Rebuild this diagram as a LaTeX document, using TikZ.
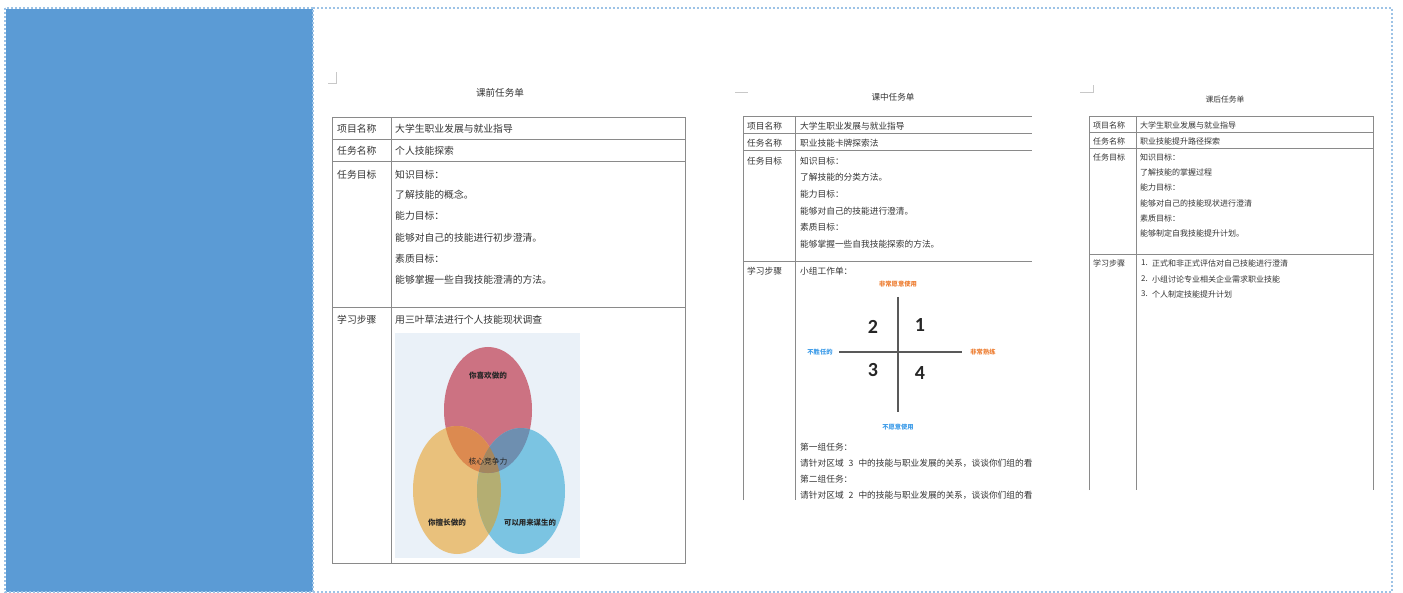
\documentclass[tikz,border=0pt]{standalone}
\usepackage{fontspec}
\setmainfont{Noto Sans CJK SC}
\newfontfamily\digitfont{Carlito}
\usepackage{tikz}
\usepackage{xcolor}
\usetikzlibrary{positioning}

\definecolor{panelblue}{HTML}{5B9BD5}
\definecolor{framedot}{HTML}{9DC3E6}
\definecolor{rulegray}{HTML}{8A8A8A}
\definecolor{markgray}{HTML}{C8C8C8}
\definecolor{textgray}{HTML}{333333}
\definecolor{vennback}{HTML}{EAF1F8}
\definecolor{vennred}{HTML}{CC7282}
\definecolor{vennorange}{HTML}{E9C17C}
\definecolor{vennblue}{HTML}{7BC4E2}
\definecolor{vennro}{HTML}{DC8A50}
\definecolor{vennrb}{HTML}{6E8FB0}
\definecolor{vennob}{HTML}{B4AE72}
\definecolor{vennrob}{HTML}{A4865E}
\definecolor{axisgray}{HTML}{595959}
\definecolor{axisorange}{HTML}{ED7D31}
\definecolor{axisblue}{HTML}{3C9BE8}

\tikzset{
    frame-dots/.style = {draw=framedot, line width=1.6pt, dash pattern=on 2pt off 2pt},
    corner-mark/.style = {draw=markgray, line width=0.6pt},
    table-rule/.style = {draw=rulegray, line width=1pt},
    sheet-title/.style = {text=textgray, inner sep=0pt},
    cell-text/.style = {text=textgray, anchor=west, inner sep=0pt},
    pre-text/.style = {cell-text, font=\fontsize{9.8}{12}\selectfont},
    mid-text/.style = {cell-text, font=\fontsize{8.7}{11}\selectfont},
    post-text/.style = {cell-text, font=\fontsize{8}{10}\selectfont},
    venn-label/.style = {text=black!85, inner sep=0pt, font=\fontsize{7.6}{9}\selectfont\bfseries},
    quad-axis/.style = {draw=axisgray, line width=1.5pt},
    quad-num/.style = {text=black!85, inner sep=0pt, font=\digitfont\bfseries\fontsize{20}{22}\selectfont},
    quad-label/.style = {inner sep=0pt, font=\fontsize{6.3}{8}\selectfont\bfseries},
}

\begin{document}
\begin{tikzpicture}[x=1pt, y=-1pt]
\useasboundingbox (0,0) rectangle (1403,593);

% side panel and dotted frame
\fill[panelblue] (6,9) rectangle (313,592);
\draw[frame-dots] (5,8) rectangle (313,592);
\draw[frame-dots] (313,8) -- (1392,8) -- (1392,592) -- (313,592);

% ---------- 课前任务单 ----------
\draw[corner-mark] (328,83) -- (336,83) -- (336,72);
\node[sheet-title, font=\fontsize{9.6}{12}\selectfont] (pre-title) at (500,93) {课前任务单};
\draw[table-rule] (332,118) rectangle (685,563);
\draw[table-rule] (332,140) -- (685,140);
\draw[table-rule] (332,162) -- (685,162);
\draw[table-rule] (332,308) -- (685,308);
\draw[table-rule] (391,118) -- (391,563);

\node[pre-text] (pre-key1) at (337,129) {项目名称};
\node[pre-text] (pre-val1) at (395,129) {大学生职业发展与就业指导};
\node[pre-text] (pre-key2) at (337,151) {任务名称};
\node[pre-text] (pre-val2) at (395,151) {个人技能探索};
\node[pre-text] (pre-key3) at (337,175) {任务目标};
\node[pre-text] (pre-goal1) at (395,175) {知识目标：};
\node[pre-text] (pre-goal2) at (395,195) {了解技能的概念。};
\node[pre-text] (pre-goal3) at (395,216) {能力目标：};
\node[pre-text] (pre-goal4) at (395,238) {能够对自己的技能进行初步澄清。};
\node[pre-text] (pre-goal5) at (395,259) {素质目标：};
\node[pre-text] (pre-goal6) at (395,280) {能够掌握一些自我技能澄清的方法。};
\node[pre-text] (pre-key4) at (337,320) {学习步骤};
\node[pre-text] (pre-step) at (395,320) {用三叶草法进行个人技能现状调查};

% three-leaf diagram
\fill[vennback] (395,333) rectangle (580,558);
\fill[vennred] (488,410) ellipse [x radius=44pt, y radius=63pt];
\fill[vennorange] (457,490) ellipse [x radius=44pt, y radius=64pt];
\fill[vennblue] (521,491) ellipse [x radius=44pt, y radius=63pt];
\begin{scope}
    \clip (457,490) ellipse [x radius=44pt, y radius=64pt];
    \fill[vennob] (521,491) ellipse [x radius=44pt, y radius=63pt];
\end{scope}
\begin{scope}
    \clip (488,410) ellipse [x radius=44pt, y radius=63pt];
    \fill[vennro] (457,490) ellipse [x radius=44pt, y radius=64pt];
    \fill[vennrb] (521,491) ellipse [x radius=44pt, y radius=63pt];
    \clip (457,490) ellipse [x radius=44pt, y radius=64pt];
    \fill[vennrob] (521,491) ellipse [x radius=44pt, y radius=63pt];
\end{scope}
\node[venn-label] (venn-like) at (488,376) {你喜欢做的};
\node[venn-label, font=\fontsize{7.8}{9}\selectfont] (venn-core) at (488,462) {核心竞争力};
\node[venn-label] (venn-good) at (447,523) {你擅长做的};
\node[venn-label, font=\fontsize{7.4}{9}\selectfont\bfseries] (venn-living) at (530,523) {可以用来谋生的};

% ---------- 课中任务单 ----------
\draw[corner-mark] (735,92) -- (748,92);
\node[sheet-title, font=\fontsize{8.6}{11}\selectfont] (mid-title) at (893,97) {课中任务单};
\draw[table-rule] (743,500) -- (743,117) -- (1032,117);
\draw[table-rule] (795,117) -- (795,500);
\draw[table-rule] (743,134) -- (1032,134);
\draw[table-rule] (743,151) -- (1032,151);
\draw[table-rule] (743,262) -- (1032,262);

\node[mid-text] (mid-key1) at (747,126) {项目名称};
\node[mid-text] (mid-val1) at (800,126) {大学生职业发展与就业指导};
\node[mid-text] (mid-key2) at (747,143) {任务名称};
\node[mid-text] (mid-val2) at (800,143) {职业技能卡牌探索法};
\node[mid-text] (mid-key3) at (747,161) {任务目标};
\node[mid-text] (mid-goal1) at (800,161) {知识目标：};
\node[mid-text] (mid-goal2) at (800,177.5) {了解技能的分类方法。};
\node[mid-text] (mid-goal3) at (800,194) {能力目标：};
\node[mid-text] (mid-goal4) at (800,211) {能够对自己的技能进行澄清。};
\node[mid-text] (mid-goal5) at (800,227.5) {素质目标：};
\node[mid-text] (mid-goal6) at (800,244) {能够掌握一些自我技能探索的方法。};
\node[mid-text] (mid-key4) at (747,271) {学习步骤};
\node[mid-text] (mid-step) at (800,271) {小组工作单：};

% four-quadrant sheet
\coordinate (axis-top) at (898,297);
\coordinate (axis-bottom) at (898,412);
\coordinate (axis-left) at (839,352);
\coordinate (axis-right) at (962,352);
\draw[quad-axis] (axis-top) -- (axis-bottom);
\draw[quad-axis] (axis-left) -- (axis-right);
\node[quad-num] (quad-two) at (873,327) {2};
\node[quad-num] (quad-one) at (920,325) {1};
\node[quad-num] (quad-three) at (873,370) {3};
\node[quad-num] (quad-four) at (920,373) {4};
\node[quad-label, text=axisorange] (quad-willing) at (898,284) {非常愿意使用};
\node[quad-label, text=axisblue] (quad-unwilling) at (898,427) {不愿意使用};
\node[quad-label, text=axisblue] (quad-unable) at (820,352) {不胜任的};
\node[quad-label, text=axisorange] (quad-skilled) at (983,352) {非常熟练};

\node[mid-text] (mid-task1) at (800,447) {第一组任务：};
\node[mid-text] (mid-task3) at (800,479) {第二组任务：};
\begin{scope}
    \clip (796,440) rectangle (1032,505);
    \node[mid-text] (mid-task2) at (800,463) {请针对区域\hspace{5pt}3\hspace{5pt}中的技能与职业发展的关系，谈谈你们组的看法。};
    \node[mid-text] (mid-task4) at (800,495) {请针对区域\hspace{5pt}2\hspace{5pt}中的技能与职业发展的关系，谈谈你们组的看法。};
\end{scope}

% ---------- 课后任务单 ----------
\draw[corner-mark] (1080,92) -- (1093,92) -- (1093,85);
\node[sheet-title, font=\fontsize{7.8}{10}\selectfont] (post-title) at (1225,100) {课后任务单};
\draw[table-rule] (1089,490) -- (1089,117) -- (1373,117) -- (1373,490);
\draw[table-rule] (1136,117) -- (1136,490);
\draw[table-rule] (1089,133) -- (1373,133);
\draw[table-rule] (1089,149) -- (1373,149);
\draw[table-rule] (1089,255) -- (1373,255);

\node[post-text] (post-key1) at (1093,125) {项目名称};
\node[post-text] (post-val1) at (1140,125) {大学生职业发展与就业指导};
\node[post-text] (post-key2) at (1093,141) {任务名称};
\node[post-text] (post-val2) at (1140,141) {职业技能提升路径探索};
\node[post-text] (post-key3) at (1093,157) {任务目标};
\node[post-text] (post-goal1) at (1140,157) {知识目标：};
\node[post-text] (post-goal2) at (1140,172) {了解技能的掌握过程};
\node[post-text] (post-goal3) at (1140,187.5) {能力目标：};
\node[post-text] (post-goal4) at (1140,203) {能够对自己的技能现状进行澄清};
\node[post-text] (post-goal5) at (1140,218) {素质目标：};
\node[post-text] (post-goal6) at (1140,233) {能够制定自我技能提升计划。};
\node[post-text] (post-key4) at (1093,263) {学习步骤};
\node[post-text] (post-num1) at (1141,263) {1.};
\node[post-text] (post-step1) at (1152,263) {正式和非正式评估对自己技能进行澄清};
\node[post-text] (post-num2) at (1141,279) {2.};
\node[post-text] (post-step2) at (1152,279) {小组讨论专业相关企业需求职业技能};
\node[post-text] (post-num3) at (1141,294) {3.};
\node[post-text] (post-step3) at (1152,294) {个人制定技能提升计划};
\end{tikzpicture}
\end{document}
